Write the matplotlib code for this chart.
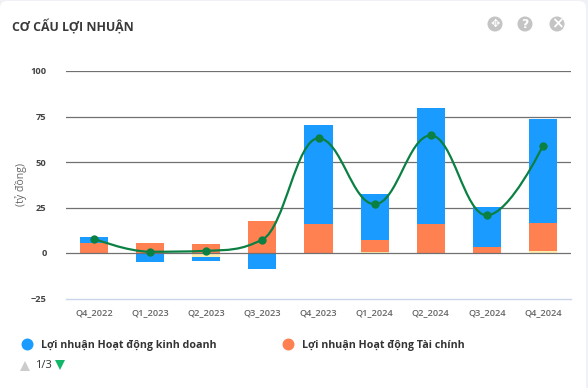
import matplotlib
matplotlib.use("Agg")
import matplotlib.pyplot as plt
from matplotlib.patches import FancyBboxPatch, PathPatch, Circle
from matplotlib.path import Path

plt.rcParams['font.family'] = ['Open Sans', 'DejaVu Sans']

# ================= Data =================
quarters = ["Q4_2022", "Q1_2023", "Q2_2023", "Q3_2023", "Q4_2023",
            "Q1_2024", "Q2_2024", "Q3_2024", "Q4_2024"]
kinh_doanh = [3.3, -5.0, -2.2, -9.0, 54.2, 25.2, 63.6, 22.0, 57.0]
tai_chinh = [5.7, 5.5, 5.0, 17.8, 16.2, 6.9, 16.2, 3.4, 15.8]
khac = [-0.4, 0.0, -2.0, 0.0, 0.0, 0.5, 0.0, 0.0, 0.9]
tong = [7.8, 0.7, 1.2, 7.4, 63.0, 26.8, 64.6, 20.7, 59.0]
y_ticks = [-25, 0, 25, 50, 75, 100]

W, H = 588, 388
BLUE = "#1a9bff"
ORANGE = "#ff8050"
YELLOW = "#fdeeb0"
GREEN = "#0b8043"
TEXT = "#333333"
TICK = "#666666"

fig = plt.figure(figsize=(W / 100, H / 100), dpi=100, facecolor="#f0f1f6")

# pixel coordinate layer for the card, title, icons and legend
bg = fig.add_axes([0, 0, 1, 1])
bg.set_xlim(0, W)
bg.set_ylim(H, 0)
bg.axis("off")
bg.add_patch(FancyBboxPatch((3, 4), W - 8, H + 20, boxstyle="round,pad=3,rounding_size=7",
                            fc="white", ec="none"))

bg.text(12, 27, "CƠ CẤU LỢI NHUẬN", fontsize=8.9, fontweight="bold", color="#3a3a3a",
        va="center", ha="left")

# top right buttons
for cx, glyph, size in [(495, "\u2725", 8), (525, "?", 9), (557, "\u00d7", 11)]:
    bg.add_patch(Circle((cx, 24), 7.5, fc="#c4c4c4", ec="none"))
    bg.text(cx, 24, glyph, fontsize=size, fontweight="bold", color="white",
            ha="center", va="center", family=['DejaVu Sans'])

# legend
bg.plot([27], [344], "o", ms=8.6, color=BLUE, mew=0)
bg.text(41, 345, "Lợi nhuận Hoạt động kinh doanh", fontsize=7.7, fontweight="bold",
        color=TEXT, va="center")
bg.plot([288], [344], "o", ms=8.6, color=ORANGE, mew=0)
bg.text(302, 345, "Lợi nhuận Hoạt động Tài chính", fontsize=7.7, fontweight="bold",
        color=TEXT, va="center")
bg.plot([25], [366], "^", ms=7.5, color="#cccccc", mew=0)
bg.text(35, 366, "1/3", fontsize=8, color=TEXT, va="center")
bg.plot([59.5], [365], "v", ms=7.5, color="#12b76a", mew=0)

# ================= Chart =================
ax = fig.add_axes([66 / W, 1 - 298.5 / H, 505 / W, (298.5 - 71) / H])
ax.patch.set_alpha(0)
ax.set_xlim(-0.5, len(quarters) - 0.5)
ax.set_ylim(-25, 100)

# stacks grow away from zero: yellow first, then orange, then blue
pos = [0.0] * len(quarters)
neg = [0.0] * len(quarters)
for values, color in [(khac, YELLOW), (tai_chinh, ORANGE), (kinh_doanh, BLUE)]:
    bottoms = [pos[i] if v >= 0 else neg[i] for i, v in enumerate(values)]
    ax.bar(range(len(quarters)), values, width=0.5, bottom=bottoms, color=color, zorder=3)
    for i, v in enumerate(values):
        if v >= 0:
            pos[i] += v
        else:
            neg[i] += v

ax.set_yticks(y_ticks)
ax.set_xticks(range(len(quarters)))
ax.set_xticklabels(quarters)
ax.tick_params(axis="both", length=0, labelcolor=TICK, labelsize=6.7)
ax.tick_params(axis="x", pad=7)
ax.tick_params(axis="y", pad=14)
for lab in ax.get_yticklabels():
    lab.set_fontweight("bold")
    lab.set_color("#444444")
for lab in ax.get_xticklabels():
    lab.set_fontweight("semibold")
for v in y_ticks[1:]:
    ax.axhline(v, color="#707070", lw=0.9, zorder=2 if v else 4)
for s in ["top", "right", "left"]:
    ax.spines[s].set_visible(False)
ax.spines["bottom"].set_color("#ccd6eb")
ax.spines["bottom"].set_linewidth(1)
ax.set_ylabel("(tỷ đồng)", fontsize=7.6, color=TICK, labelpad=0)
ax.yaxis.set_label_coords(-39 / 505, (298.5 - 184) / (298.5 - 71))


def spline_path(xs, ys):
    # same control point rule as a Highcharts spline series, with its clamping
    smooth, denom = 1.5, 2.5
    right = []
    left = []
    n = len(xs)
    for i in range(n):
        if i == 0 or i == n - 1:
            left.append((xs[i], ys[i]))
            right.append((xs[i], ys[i]))
            continue
        lx = (smooth * xs[i] + xs[i - 1]) / denom
        ly = (smooth * ys[i] + ys[i - 1]) / denom
        rx = (smooth * xs[i] + xs[i + 1]) / denom
        ry = (smooth * ys[i] + ys[i + 1]) / denom
        corr = (ry - ly) * (rx - xs[i]) / (rx - lx) + ys[i] - ry
        ly += corr
        ry += corr
        if ly > ys[i - 1] and ly > ys[i]:
            ly = max(ys[i - 1], ys[i])
            ry = 2 * ys[i] - ly
        elif ly < ys[i - 1] and ly < ys[i]:
            ly = min(ys[i - 1], ys[i])
            ry = 2 * ys[i] - ly
        if ry > ys[i + 1] and ry > ys[i]:
            ry = max(ys[i + 1], ys[i])
            ly = 2 * ys[i] - ry
        elif ry < ys[i + 1] and ry < ys[i]:
            ry = min(ys[i + 1], ys[i])
            ly = 2 * ys[i] - ry
        left.append((lx, ly))
        right.append((rx, ry))
    verts = [(xs[0], ys[0])]
    codes = [Path.MOVETO]
    for i in range(1, n):
        verts += [right[i - 1], left[i], (xs[i], ys[i])]
        codes += [Path.CURVE4] * 3
    return Path(verts, codes)


ax.add_patch(PathPatch(spline_path(list(range(len(tong))), tong), fc="none", ec=GREEN,
                       lw=1.6, zorder=5))
ax.plot(range(len(tong)), tong, "o", ms=6, color=GREEN, mew=0, zorder=6)

fig.savefig("out.png", dpi=100, facecolor=fig.get_facecolor())
